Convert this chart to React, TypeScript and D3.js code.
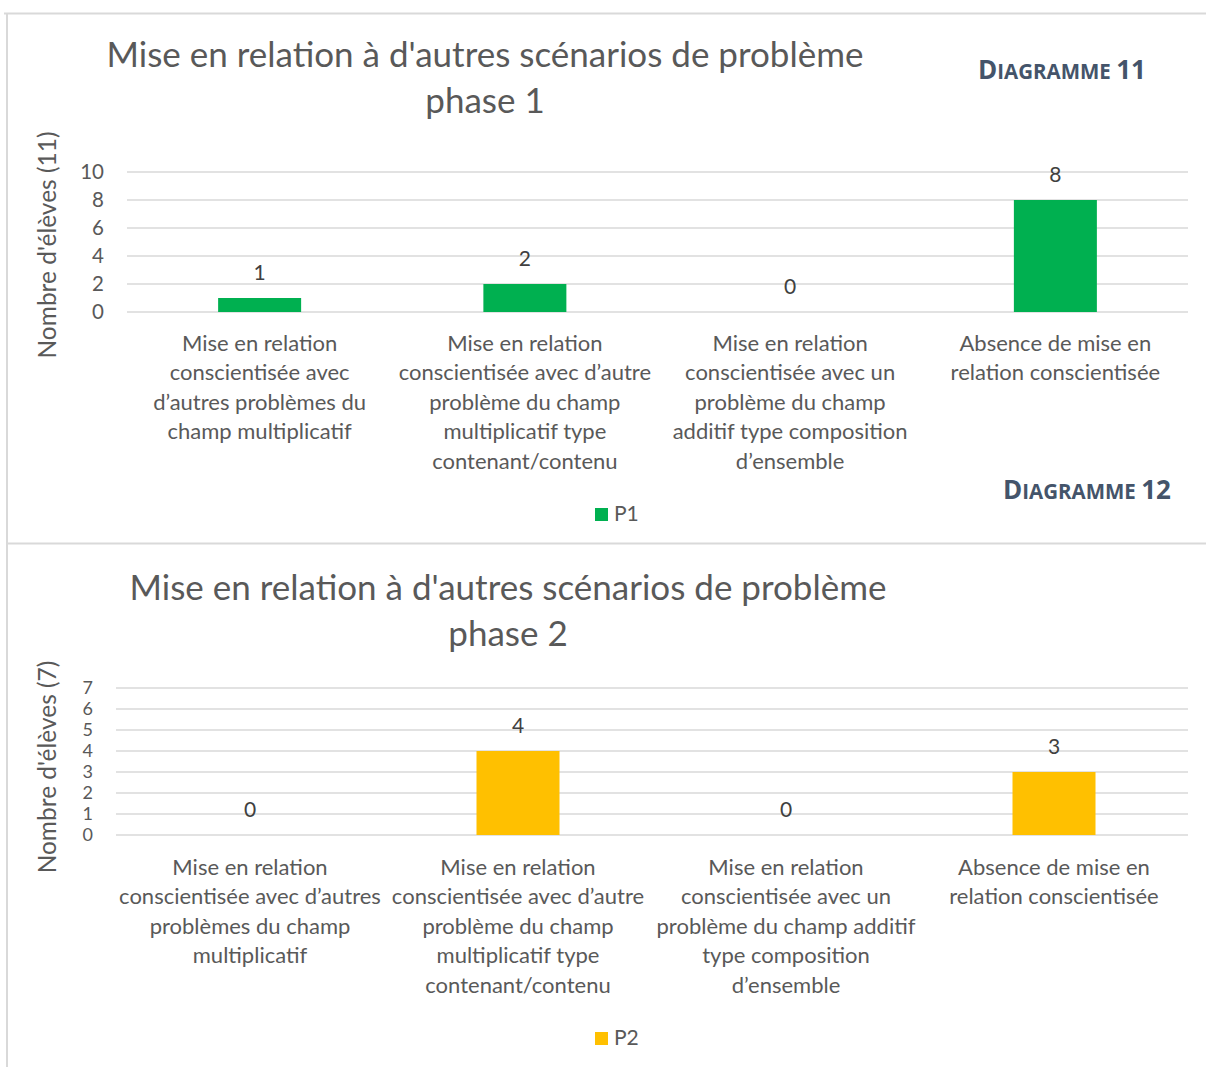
import React, { useEffect, useRef } from 'react'
import * as d3 from 'd3'

// categories (already wrapped the way each chart wraps them)
const labelsPhase1 = [
  ['Mise en relation', 'conscientisée avec', 'd’autres problèmes du', 'champ multiplicatif'],
  ['Mise en relation', 'conscientisée avec d’autre', 'problème du champ', 'multiplicatif type', 'contenant/contenu'],
  ['Mise en relation', 'conscientisée avec un', 'problème du champ', 'additif type composition', 'd’ensemble'],
  ['Absence de mise en', 'relation conscientisée'],
]
const labelsPhase2 = [
  ['Mise en relation', 'conscientisée avec d’autres', 'problèmes du champ', 'multiplicatif'],
  ['Mise en relation', 'conscientisée avec d’autre', 'problème du champ', 'multiplicatif type', 'contenant/contenu'],
  ['Mise en relation', 'conscientisée avec un', 'problème du champ additif', 'type composition', 'd’ensemble'],
  ['Absence de mise en', 'relation conscientisée'],
]
const valuesP1 = [1, 2, 0, 8]
const valuesP2 = [0, 4, 0, 3]
const ticksP1 = [0, 2, 4, 6, 8, 10]
const ticksP2 = [0, 1, 2, 3, 4, 5, 6, 7]

const FONT = 'Lato, "Open Sans", sans-serif'
const BORDER = '#d9d9d9'

function drawChart(svg, cfg) {
  const g = svg.append('g')

  // title
  const title = g.append('text')
    .attr('text-anchor', 'middle')
    .attr('font-size', 35)
    .attr('fill', '#595959')
    .attr('font-family', FONT)
  cfg.title.forEach((t, i) => {
    title.append('tspan')
      .attr('x', cfg.titleX)
      .attr('y', cfg.titleY + i * 46)
      .attr('dy', '0.35em')
      .text(t)
  })

  const y = d3.scaleLinear().domain([0, cfg.max]).range([cfg.y0, cfg.y1])
  const x = d3.scaleBand().domain(cfg.labels.map((d, i) => i)).range([cfg.bandL, cfg.bandR])

  // gridlines
  g.selectAll('.grid')
    .data(cfg.ticks)
    .enter()
    .append('line')
    .attr('x1', cfg.bandL)
    .attr('x2', cfg.bandR)
    .attr('y1', d => y(d))
    .attr('y2', d => y(d))
    .attr('stroke', BORDER)
    .attr('stroke-width', 1.5)

  // tick labels
  g.selectAll('.tick')
    .data(cfg.ticks)
    .enter()
    .append('text')
    .attr('x', cfg.tickX)
    .attr('y', d => y(d))
    .attr('dy', '0.35em')
    .attr('text-anchor', 'end')
    .attr('font-size', cfg.tickSize)
    .attr('fill', '#595959')
    .attr('font-family', FONT)
    .text(d => d)

  // axis title
  g.append('text')
    .attr('transform', 'translate(' + 47 + ',' + cfg.axisTitleY + ') rotate(-90)')
    .attr('text-anchor', 'middle')
    .attr('dy', '0.35em')
    .attr('font-size', 24.5)
    .attr('fill', '#595959')
    .attr('font-family', FONT)
    .text(cfg.axisTitle)

  const bw = 83
  // bars
  g.selectAll('.bar')
    .data(cfg.values)
    .enter()
    .append('rect')
    .attr('x', (d, i) => x(i) + x.bandwidth() / 2 - bw / 2)
    .attr('y', d => y(d))
    .attr('width', bw)
    .attr('height', d => y(0) - y(d))
    .attr('fill', cfg.color)

  // values
  g.selectAll('.val')
    .data(cfg.values)
    .enter()
    .append('text')
    .attr('x', (d, i) => x(i) + x.bandwidth() / 2)
    .attr('y', d => y(d) - 25)
    .attr('dy', '0.35em')
    .attr('text-anchor', 'middle')
    .attr('font-size', 21)
    .attr('fill', '#404040')
    .attr('font-family', FONT)
    .text(d => d)

  // category labels
  cfg.labels.forEach((lines, i) => {
    const t = g.append('text')
      .attr('text-anchor', 'middle')
      .attr('font-size', 22)
      .attr('fill', '#595959')
      .attr('font-family', FONT)
    lines.forEach((l, j) => {
      t.append('tspan')
        .attr('x', x(i) + x.bandwidth() / 2)
        .attr('y', cfg.labelY + j * 29.5)
        .attr('dy', '0.35em')
        .text(l)
    })
  })

  // legend
  g.append('rect')
    .attr('x', 595)
    .attr('y', cfg.legendY - 6)
    .attr('width', 13)
    .attr('height', 13)
    .attr('fill', cfg.color)
  g.append('text')
    .attr('x', 614)
    .attr('y', cfg.legendY)
    .attr('dy', '0.35em')
    .attr('font-size', 21)
    .attr('fill', '#595959')
    .attr('font-family', FONT)
    .text(cfg.series)
}

function caption(svg, x, y, num) {
  const t = svg.append('text')
    .attr('x', x)
    .attr('y', y)
    .attr('font-family', '"Open Sans", sans-serif')
    .attr('font-weight', 'bold')
    .attr('fill', '#44546a')
  t.append('tspan').attr('font-size', 26).text('D')
  t.append('tspan').attr('font-size', 20.5).text('IAGRAMME ')
  t.append('tspan').attr('font-size', 26).text(num)
}

export default function App() {
  const ref = useRef(null)

  useEffect(() => {
    const svg = d3.select(ref.current)
    svg.selectAll('*').remove()

    // panel borders
    svg.append('line').attr('x1', 4).attr('x2', 1206).attr('y1', 13.5).attr('y2', 13.5).attr('stroke', BORDER).attr('stroke-width', 2)
    svg.append('line').attr('x1', 7).attr('x2', 7).attr('y1', 13).attr('y2', 1067).attr('stroke', BORDER).attr('stroke-width', 2)
    svg.append('line').attr('x1', 7).attr('x2', 1206).attr('y1', 543.5).attr('y2', 543.5).attr('stroke', BORDER).attr('stroke-width', 2)

    drawChart(svg, {
      title: ["Mise en relation à d'autres scénarios de problème", 'phase 1'],
      titleX: 485, titleY: 55,
      max: 10, ticks: ticksP1, y0: 312, y1: 172,
      bandL: 127, bandR: 1188, tickX: 104, tickSize: 20.5,
      axisTitle: "Nombre d'élèves (11)", axisTitleY: 245,
      values: valuesP1, labels: labelsPhase1, color: '#00b050',
      labelY: 343, legendY: 514, series: 'P1',
    })
    drawChart(svg, {
      title: ["Mise en relation à d'autres scénarios de problème", 'phase 2'],
      titleX: 508, titleY: 588,
      max: 7, ticks: ticksP2, y0: 835, y1: 688,
      bandL: 116, bandR: 1188, tickX: 93, tickSize: 18,
      axisTitle: "Nombre d'élèves (7)", axisTitleY: 767,
      values: valuesP2, labels: labelsPhase2, color: '#ffc000',
      labelY: 867, legendY: 1038, series: 'P2',
    })

    caption(svg, 978, 79, '11')
    caption(svg, 1003, 499, '12')
  }, [])

  return (
    <svg
      ref={ref}
      width={1206}
      height={1067}
      style={{ position: 'absolute', left: 0, top: 0, background: '#fff' }}
    />
  )
}
